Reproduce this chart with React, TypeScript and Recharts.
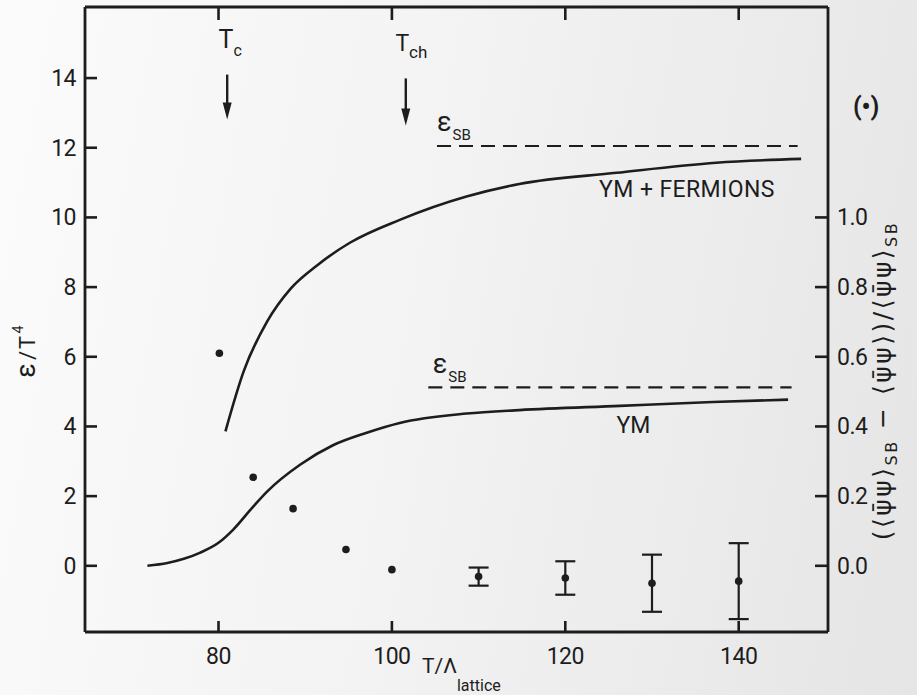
import React from "react";
import {
  ComposedChart,
  Line,
  Scatter,
  XAxis,
  YAxis,
  ErrorBar,
  ReferenceDot,
  ReferenceLine,
} from "recharts";

const INK = "#1d1d1d";
const FONT = "Roboto, 'DejaVu Sans', sans-serif";

// Energy density eps/T^4, YM + fermions
const fermionT = [80.8, 82.9, 85.6, 88.3, 91.4, 95.2, 100.9, 108.6, 114.7, 125.9, 137.4, 147.2];
const fermionEps = [3.86, 5.58, 7.01, 7.95, 8.63, 9.28, 9.93, 10.6, 10.96, 11.28, 11.57, 11.68];

// Energy density eps/T^4, pure YM
const ymT = [71.8, 74.1, 76.0, 77.9, 80.0, 81.7, 84.0, 85.6, 89.4, 93.2, 97.1, 100.9, 108.6, 114.7, 126.3, 137.0, 145.7];
const ymEps = [0.0, 0.08, 0.2, 0.38, 0.66, 1.04, 1.7, 2.13, 2.9, 3.46, 3.82, 4.1, 4.37, 4.47, 4.59, 4.7, 4.77];

// Stefan-Boltzmann limits (dashed)
const sbFermionT = [105.2, 146.8];
const sbFermionEps = 12.05;
const sbYmT = [104.2, 146.1];
const sbYmEps = 5.12;

// Chiral condensate ratio (right axis), points without error bars
const condT = [80.1, 84.0, 88.6, 94.7, 100.0];
const condRatio = [0.61, 0.254, 0.164, 0.047, -0.011];

// Points with error bars
const condErrT = [110, 120, 130, 140];
const condErrRatio = [-0.031, -0.035, -0.05, -0.044];
const condErrSize = [0.026, 0.048, 0.082, 0.109];

// Ticks
const xTicks = [80, 100, 120, 140];
const epsTicks = [0, 2, 4, 6, 8, 10, 12, 14];
const ratioTicks = [0, 0.2, 0.4, 0.6, 0.8, 1.0];

const fermionData = fermionT.map((x, i) => ({ x, eps: fermionEps[i] }));
const ymData = ymT.map((x, i) => ({ x, eps: ymEps[i] }));
const sbFermionData = sbFermionT.map((x) => ({ x, eps: sbFermionEps }));
const sbYmData = sbYmT.map((x) => ({ x, eps: sbYmEps }));
const condData = condT.map((x, i) => ({ x, r: condRatio[i] }));
const condErrData = condErrT.map((x, i) => ({ x, r: condErrRatio[i], err: condErrSize[i] }));

const TICK_FS = 23;
const TICK_LINE = { stroke: INK, strokeWidth: 2.6 };

const LeftTick = (p: any) => (
  <text x={p.x} y={p.y + 8} textAnchor="end" fontSize={TICK_FS} fontFamily={FONT} fill={INK} letterSpacing={-0.5}>
    {p.payload.value}
  </text>
);

const RightTick = (p: any) => (
  <text x={p.x} y={p.y + 8} textAnchor="start" fontSize={TICK_FS} fontFamily={FONT} fill={INK} letterSpacing={-0.5}>
    {Number(p.payload.value).toFixed(1)}
  </text>
);

const BottomTick = (p: any) => (
  <text x={p.x} y={p.y + 32} textAnchor="middle" fontSize={TICK_FS} fontFamily={FONT} fill={INK} letterSpacing={-0.5}>
    {p.payload.value}
  </text>
);

const EmptyTick = () => <g />;

const LeftTitle = (p: any) => {
  const vb = p.viewBox || { x: 84, y: 7, width: 1, height: 625 };
  const bx = vb.x + vb.width - 50;
  const cy = vb.y + vb.height / 2 + 32;
  return (
    <text transform={`rotate(-90, ${bx}, ${cy})`} x={bx} y={cy} textAnchor="middle" fontFamily={FONT} fontSize={22} fill={INK}>
      <tspan fontSize={27}>ε</tspan>
      <tspan dx={3}>/</tspan>
      <tspan dx={2}>T</tspan>
      <tspan fontSize={15} dy={-12} dx={2}>4</tspan>
    </text>
  );
};

const RightTitle = (p: any) => {
  const vb = p.viewBox || { x: 828, y: 7, width: 1, height: 625 };
  const bx = vb.x + 63;
  const cy = vb.y + vb.height / 2 + 61;
  const pb = "ψ\u0304ψ";
  return (
    <text transform={`rotate(-90, ${bx}, ${cy})`} x={bx} y={cy} textAnchor="middle" fontFamily="'DejaVu Sans', sans-serif" fontSize={25} fill={INK} letterSpacing={2.5}>
      <tspan>{`(⟨${pb}⟩`}</tspan>
      <tspan fontSize={16} dy={6}>SB</tspan>
      <tspan dy={-6}>{` − ⟨${pb}⟩)/⟨${pb}⟩`}</tspan>
      <tspan fontSize={16} dy={6}>SB</tspan>
    </text>
  );
};

const XTitle = (p: any) => {
  const vb = p.viewBox || { x: 85, y: 632, width: 743, height: 1 };
  return (
    <text x={vb.x + 337} y={vb.y + 41} textAnchor="start" fontFamily={FONT} fontSize={21} fill={INK}>
      <tspan>T/Λ</tspan>
      <tspan fontSize={16} dy={18}>lattice</tspan>
    </text>
  );
};

const textShape = (render: (x: number, y: number) => React.ReactElement) => (p: any) => render(p.cx, p.cy);

const arrowShape = (p: any) => {
  const { x1, y1, x2, y2 } = p;
  const headLen = 17;
  const headW = 4.5;
  return (
    <g>
      <line x1={x1} y1={y1} x2={x2} y2={y2 - headLen + 2} stroke={INK} strokeWidth={2.4} />
      <polygon points={`${x2 - headW},${y2 - headLen} ${x2 + headW},${y2 - headLen} ${x2},${y2}`} fill={INK} />
    </g>
  );
};

const dotShape = (p: any) => <circle cx={p.cx} cy={p.cy} r={3.8} fill={INK} />;

export default function App() {
  return (
    <div
      style={{
        position: "absolute",
        left: 0,
        top: 0,
        width: 917,
        height: 695,
        background: "linear-gradient(100deg, #fbfbfb 0%, #f3f3f3 45%, #e5e5e5 100%)",
      }}
    >
      <ComposedChart width={917} height={695} margin={{ top: 6, right: 88, bottom: 62, left: 84 }}>
        <XAxis
          xAxisId="bottom"
          dataKey="x"
          type="number"
          domain={[64.6, 150.3]}
          allowDataOverflow
          ticks={xTicks}
          interval={0}
          height={1}
          tickSize={-11}
          tickMargin={11}
          tick={<BottomTick />}
          axisLine={{ stroke: INK, strokeWidth: 2.8 }}
          tickLine={TICK_LINE}
          label={<XTitle />}
        />
        <XAxis
          xAxisId="top"
          orientation="top"
          dataKey="x"
          type="number"
          domain={[64.6, 150.3]}
          allowDataOverflow
          ticks={xTicks}
          interval={0}
          height={1}
          tickSize={-13}
          tickMargin={0}
          tick={<EmptyTick />}
          axisLine={{ stroke: INK, strokeWidth: 2.8 }}
          tickLine={TICK_LINE}
        />
        <YAxis
          yAxisId="left"
          type="number"
          domain={[-1.9, 16.04]}
          allowDataOverflow
          ticks={epsTicks}
          interval={0}
          width={1}
          tickSize={-12}
          tickMargin={21}
          tick={<LeftTick />}
          axisLine={{ stroke: INK, strokeWidth: 2.8 }}
          tickLine={TICK_LINE}
          label={<LeftTitle />}
        />
        <YAxis
          yAxisId="right"
          orientation="right"
          type="number"
          domain={[-0.19, 1.604]}
          allowDataOverflow
          ticks={ratioTicks}
          interval={0}
          width={1}
          tickSize={-13}
          tickMargin={22}
          tick={<RightTick />}
          axisLine={{ stroke: INK, strokeWidth: 2.8 }}
          tickLine={TICK_LINE}
          label={<RightTitle />}
        />

        <Line xAxisId="bottom" yAxisId="left" data={fermionData} dataKey="eps" type="monotone" stroke={INK} strokeWidth={2.6} dot={false} isAnimationActive={false} />
        <Line xAxisId="bottom" yAxisId="left" data={ymData} dataKey="eps" type="monotone" stroke={INK} strokeWidth={2.6} dot={false} isAnimationActive={false} />
        <Line xAxisId="bottom" yAxisId="left" data={sbFermionData} dataKey="eps" type="linear" stroke={INK} strokeWidth={2.2} strokeDasharray="14 8" dot={false} isAnimationActive={false} />
        <Line xAxisId="bottom" yAxisId="left" data={sbYmData} dataKey="eps" type="linear" stroke={INK} strokeWidth={2.2} strokeDasharray="14 8" dot={false} isAnimationActive={false} />

        <Scatter xAxisId="bottom" yAxisId="right" data={condData} dataKey="r" shape={dotShape} isAnimationActive={false} />
        <Scatter xAxisId="bottom" yAxisId="right" data={condErrData} dataKey="r" shape={dotShape} isAnimationActive={false}>
          <ErrorBar dataKey="err" direction="y" width={10} stroke={INK} strokeWidth={2.2} isAnimationActive={false} />
        </Scatter>

        {/* T_c and T_ch arrows */}
        <ReferenceLine xAxisId="bottom" yAxisId="left" segment={[{ x: 81.0, y: 14.1 }, { x: 81.0, y: 12.81 }]} shape={arrowShape} ifOverflow="visible" />
        <ReferenceLine xAxisId="bottom" yAxisId="left" segment={[{ x: 101.6, y: 13.99 }, { x: 101.6, y: 12.64 }]} shape={arrowShape} ifOverflow="visible" />

        <ReferenceDot xAxisId="bottom" yAxisId="left" x={80.0} y={14.86} ifOverflow="visible"
          shape={textShape((x, y) => (
            <text x={x} y={y} fontFamily={FONT} fontSize={25} fill={INK}>
              T<tspan fontSize={16} dy={8}>c</tspan>
            </text>
          ))}
        />
        <ReferenceDot xAxisId="bottom" yAxisId="left" x={100.4} y={14.77} ifOverflow="visible"
          shape={textShape((x, y) => (
            <text x={x} y={y} fontFamily={FONT} fontSize={23} fill={INK}>
              T<tspan fontSize={17} dy={7}>ch</tspan>
            </text>
          ))}
        />
        <ReferenceDot xAxisId="bottom" yAxisId="left" x={105.2} y={12.47} ifOverflow="visible"
          shape={textShape((x, y) => (
            <text x={x} y={y} fontFamily={FONT} fontSize={27} fill={INK}>
              ε<tspan fontSize={15} dy={9} dx={1}>SB</tspan>
            </text>
          ))}
        />
        <ReferenceDot xAxisId="bottom" yAxisId="left" x={104.7} y={5.53} ifOverflow="visible"
          shape={textShape((x, y) => (
            <text x={x} y={y} fontFamily={FONT} fontSize={27} fill={INK}>
              ε<tspan fontSize={15} dy={9} dx={1}>SB</tspan>
            </text>
          ))}
        />
        <ReferenceDot xAxisId="bottom" yAxisId="left" x={123.9} y={10.59} ifOverflow="visible"
          shape={textShape((x, y) => (
            <text x={x} y={y} fontFamily={FONT} fontSize={23} fill={INK} letterSpacing={0.4}>
              YM + FERMIONS
            </text>
          ))}
        />
        <ReferenceDot xAxisId="bottom" yAxisId="left" x={125.9} y={3.82} ifOverflow="visible"
          shape={textShape((x, y) => (
            <text x={x} y={y} fontFamily={FONT} fontSize={23} fill={INK}>
              YM
            </text>
          ))}
        />
        <ReferenceDot xAxisId="bottom" yAxisId="left" x={154.7} y={12.94} ifOverflow="visible"
          shape={textShape((x, y) => (
            <text x={x} y={y} textAnchor="middle" fontFamily={FONT} fontSize={25} fontWeight={700} fill={INK}>
              (•)
            </text>
          ))}
        />
      </ComposedChart>
    </div>
  );
}
